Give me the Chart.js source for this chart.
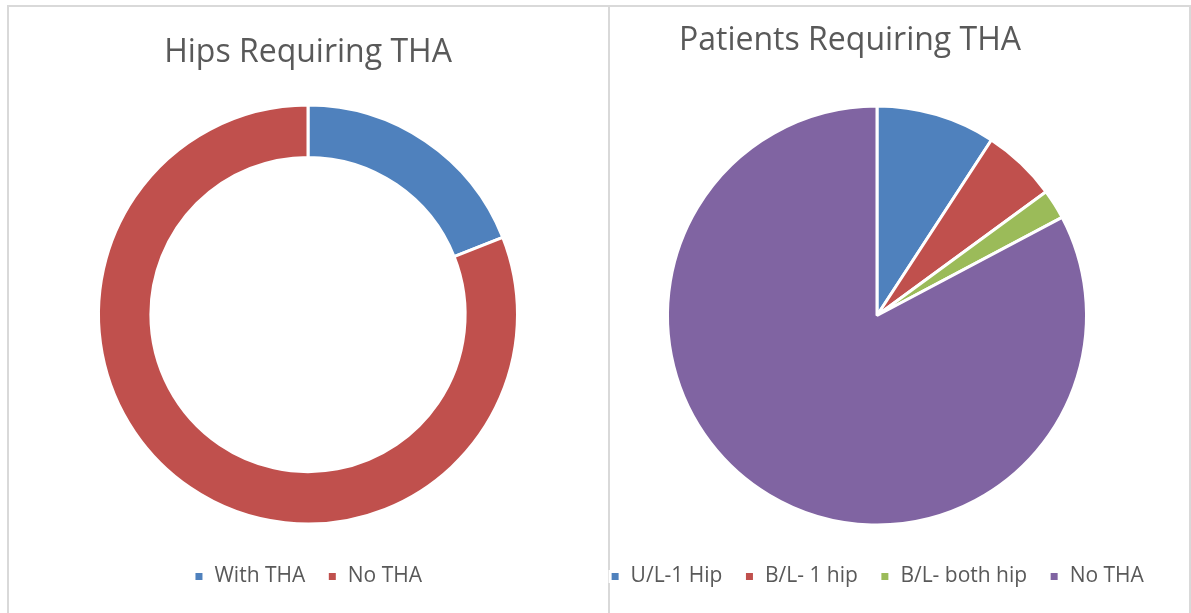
<!DOCTYPE html>
<html>
<head>
<meta charset="utf-8">
<script src="https://cdn.jsdelivr.net/npm/chart.js@4.4.0/dist/chart.umd.min.js"></script>
<style>
    body { margin: 0; background: #fff; width: 1191px; height: 613px; overflow: hidden; position: relative; }
    .caixa { position: absolute; top: 5px; height: 700px; border: 2px solid #d9d9d9; box-sizing: border-box; }
    #caixaEsq { left: 7px; width: 603px; }
    #caixaDir { left: 609px; width: 582px; border-left: none; }
    canvas { position: absolute; top: 7px; }
    #graficoQuadril { left: 9px; }
    #graficoPacientes { left: 565px; }
</style>
</head>
<body>
<div class="caixa" id="caixaEsq"></div>
<div class="caixa" id="caixaDir"></div>
<canvas id="graficoQuadril" width="598" height="606"></canvas>
<canvas id="graficoPacientes" width="624" height="606"></canvas>
<script>
// Dados dos gráficos
const TITULOS = ['Hips Requiring THA', 'Patients Requiring THA'];
const CATEGORIAS_QUADRIL = ['With THA', 'No THA'];
const VALORES_QUADRIL = [19, 81];
const CATEGORIAS_PACIENTES = ['U/L-1 Hip', 'B/L- 1 hip', 'B/L- both hip', 'No THA'];
const VALORES_PACIENTES = [8, 5, 2, 72];
const CORES = ['#4F81BD', '#C0504D', '#9BBB59', '#8064A2'];

const COR_TEXTO = '#595959';
const FONTE = 'Open Sans';

// Plugin simples para desenhar o título em posição livre
const pluginTitulo = {
    id: 'tituloFixo',
    afterDraw(chart, args, opts) {
        const ctx = chart.ctx;
        const area = chart.chartArea;
        ctx.save();
        ctx.font = opts.tamanho + 'px "' + FONTE + '"';
        ctx.fillStyle = COR_TEXTO;
        ctx.textAlign = 'center';
        ctx.textBaseline = 'alphabetic';
        ctx.fillText(opts.texto, (area.left + area.right) / 2 + opts.deslocX, opts.linhaBase);
        ctx.restore();
    }
};

// Função para montar um gráfico de pizza/rosca
function gerarGrafico(idCanvas, tipo, labels, valores, titulo, extras) {
    const ctx = document.getElementById(idCanvas).getContext('2d');
    return new Chart(ctx, {
        type: tipo,
        data: {
            labels: labels,
            datasets: [{
                data: valores,
                backgroundColor: CORES.slice(0, valores.length),
                borderColor: '#ffffff',
                borderWidth: 3
            }]
        },
        options: {
            responsive: false,
            animation: false,
            events: [],
            radius: 209.5,
            cutout: extras.cutout,
            layout: { padding: { top: extras.topo, bottom: 16 } },
            plugins: {
                tooltip: { enabled: false },
                tituloFixo: { texto: titulo, tamanho: 32, deslocX: extras.deslocX, linhaBase: extras.linhaBase },
                legend: {
                    position: 'bottom',
                    labels: {
                        boxWidth: 10,
                        boxHeight: 10,
                        padding: 22,
                        color: COR_TEXTO,
                        font: { family: FONTE, size: 21 }
                    }
                }
            }
        },
        plugins: [pluginTitulo]
    });
}

document.fonts.load('21px "Open Sans"').then(() => {
    gerarGrafico('graficoQuadril', 'doughnut', CATEGORIAS_QUADRIL, VALORES_QUADRIL, TITULOS[0],
        { cutout: '75%', topo: 78, deslocX: 0, linhaBase: 55 });
    gerarGrafico('graficoPacientes', 'pie', CATEGORIAS_PACIENTES, VALORES_PACIENTES, TITULOS[1],
        { cutout: 0, topo: 80, deslocX: -27, linhaBase: 43 });
});
</script>
</body>
</html>
